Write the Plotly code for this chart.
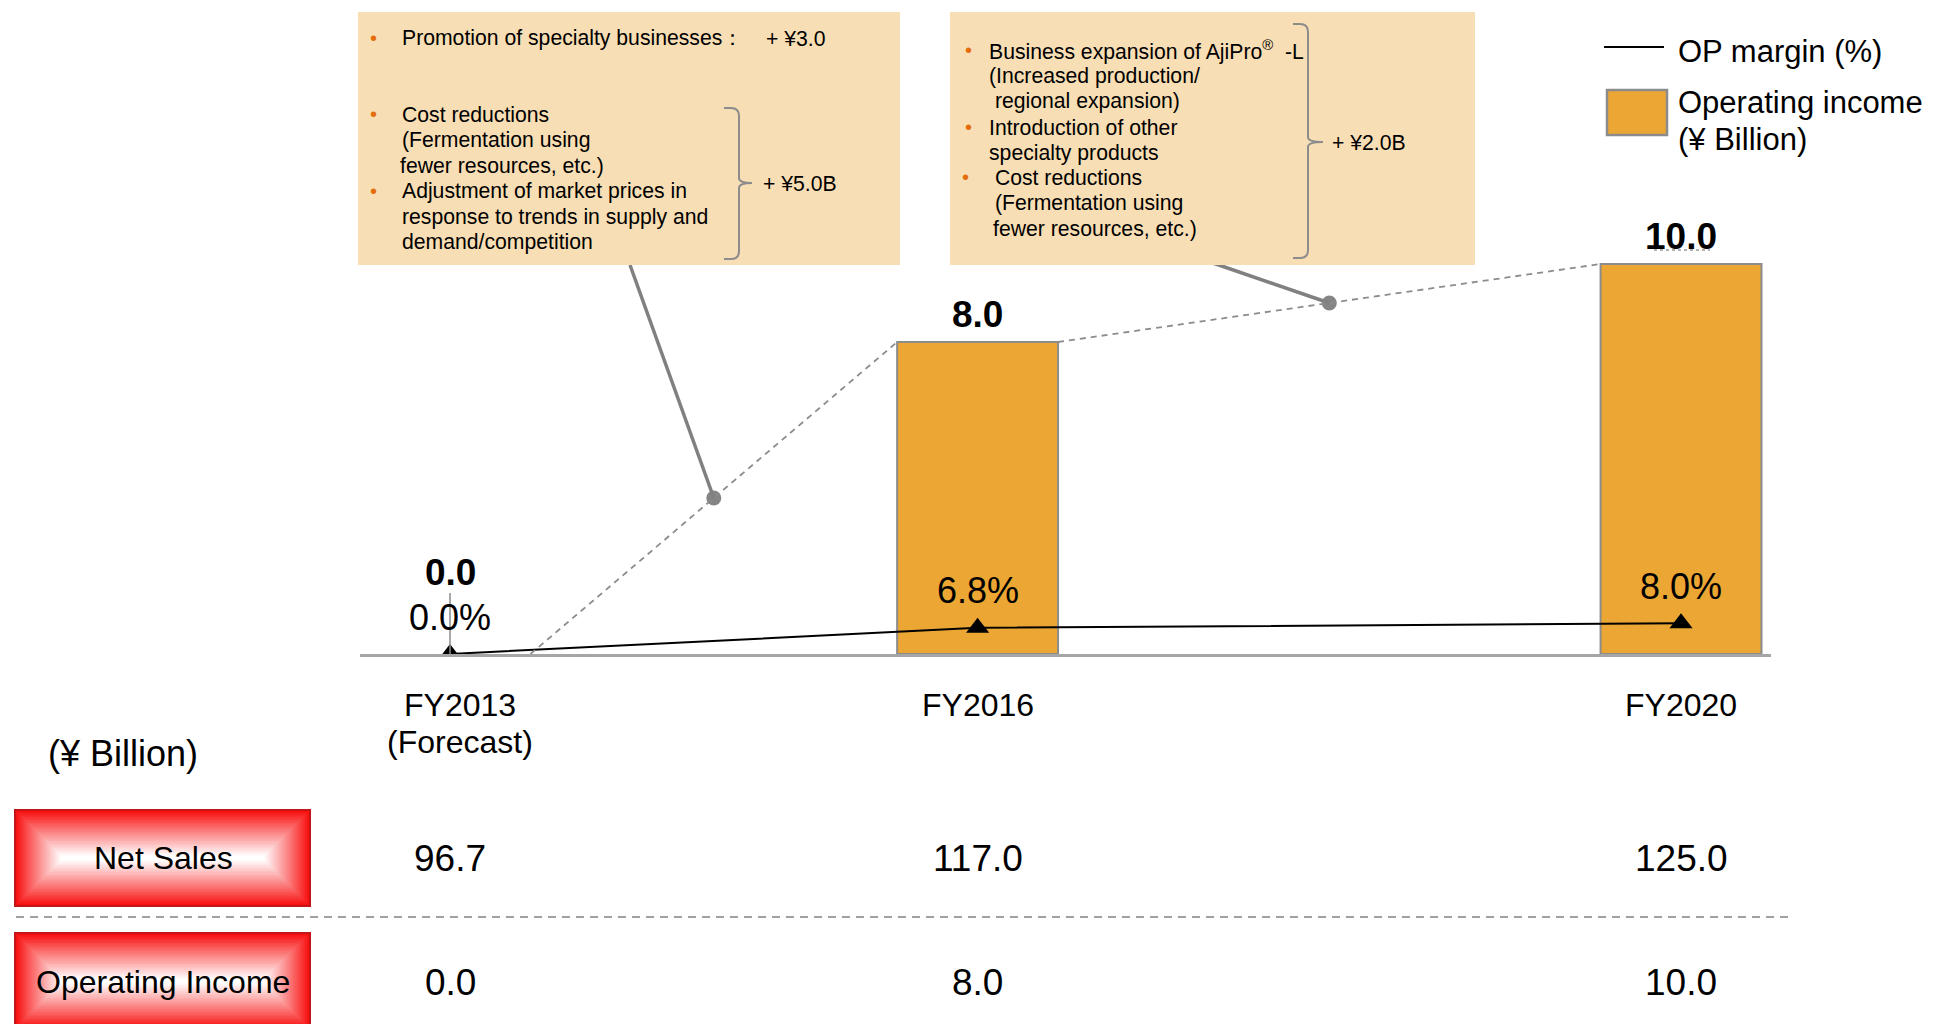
import plotly.graph_objects as go

# ---------------------------------------------------------------------------
# Data
# ---------------------------------------------------------------------------
years = [2013, 2016, 2020]
fy_labels = ["FY2013", "FY2016", "FY2020"]
fy_sublabels = ["(Forecast)", "", ""]
operating_income = [0.0, 8.0, 10.0]      # ¥ Billion
op_margin = [0.0, 6.8, 8.0]              # %
net_sales = [96.7, 117.0, 125.0]         # ¥ Billion

box1_lines = [
    ("•", "Promotion of specialty businesses："),
    ("•", "Cost reductions"),
    ("", "(Fermentation using"),
    ("", "fewer resources, etc.)"),
    ("•", "Adjustment of market prices in"),
    ("", "response to trends in supply and"),
    ("", "demand/competition"),
]
box1_side = ["+ ¥3.0", "+ ¥5.0B"]

box2_lines = [
    ("•", "Business expansion of AjiPro<sup>®</sup>  -L"),
    ("", "(Increased production/"),
    ("", " regional expansion)"),
    ("•", "Introduction of other"),
    ("", "specialty products"),
    ("•", " Cost reductions"),
    ("", " (Fermentation using"),
    ("", "fewer resources, etc.)"),
]
box2_side = "+ ¥2.0B"

# ---------------------------------------------------------------------------
# Geometry / style
# ---------------------------------------------------------------------------
W, H = 1935, 1024
FONT = "Liberation Sans, Arial, Helvetica, sans-serif"
ORANGE = "#EBA633"
PEACH = "#F8DEB4"
GRAY = "#8C8C8C"
BULLET = "#E46C0A"

PL, PR, PB = 360, 1771, 654            # plot area left/right/bottom in pixels
X_RANGE = [2012.4882, 2020.5116]
Y_PX_PER_UNIT = 39.0
Y2_PX_PER_PCT = 3.85
BAR_W = 0.915


def px(x):
    return x / W


def py(y):
    return 1 - y / H


def data_x(xpix):
    return X_RANGE[0] + (xpix - PL) * (X_RANGE[1] - X_RANGE[0]) / (PR - PL)


def data_y(ypix):
    return (PB - ypix) / Y_PX_PER_UNIT


fig = go.Figure()

# Operating income bars (no outline on an empty bar)
fig.add_bar(
    x=years, y=operating_income, width=BAR_W, yaxis="y",
    marker=dict(color=ORANGE,
                line=dict(color=GRAY, width=[2 if v > 0 else 0 for v in operating_income])),
    showlegend=False, hoverinfo="skip",
)

# Dashed steps between bar tops, with a dot in the middle of each step
half = BAR_W / 2
steps = []
for i in range(len(years) - 1):
    x0, y0 = years[i] + half, operating_income[i]
    x1, y1 = years[i + 1] - half, operating_income[i + 1]
    steps.append((x0, y0, x1, y1))

shapes = []
for x0, y0, x1, y1 in steps:
    shapes.append(dict(type="line", xref="x", yref="y", x0=x0, y0=y0, x1=x1, y1=y1,
                       line=dict(color=GRAY, width=1.8, dash="6px,5px")))

mid_x = [(s[0] + s[2]) / 2 for s in steps]
mid_y = [(s[1] + s[3]) / 2 for s in steps]

# Callout leaders from the text boxes to the step midpoints
anchors = [(630, 265), (1213, 263)]
for (ax, ay), mx, my in zip(anchors, mid_x, mid_y):
    shapes.append(dict(type="line", xref="x", yref="y",
                       x0=data_x(ax), y0=data_y(ay), x1=mx, y1=my,
                       line=dict(color="#808080", width=3.5)))

fig.add_scatter(
    x=mid_x, y=mid_y, mode="markers", yaxis="y",
    marker=dict(symbol="circle", size=15, color="#858585"),
    showlegend=False, hoverinfo="skip",
)

# OP margin line
fig.add_scatter(
    x=years, y=op_margin, yaxis="y2", mode="lines+markers",
    line=dict(color="black", width=2),
    marker=dict(symbol="triangle-up", size=20, color="black"),
    showlegend=False, hoverinfo="skip",
)

# thin leader at the first category
shapes.append(dict(type="line", xref="x", yref="y", x0=years[0], x1=years[0],
                   y0=0, y1=data_y(593), line=dict(color=GRAY, width=1.5)))

# ---------------------------------------------------------------------------
# Text boxes
# ---------------------------------------------------------------------------
annotations = []


def label(xp, yp, text, size, anchor="left", color="black", bold=False):
    if bold:
        text = "<b>" + text + "</b>"
    annotations.append(dict(
        xref="paper", yref="paper", x=px(xp), y=py(yp), text=text,
        showarrow=False, xanchor=anchor, yanchor="middle",
        font=dict(family=FONT, size=size, color=color),
    ))


def bracket(x0, x1, tip, top, bottom, mid):
    r = 8
    path = (
        f"M {px(x0)},{py(top)} L {px(x1 - r)},{py(top)} "
        f"Q {px(x1)},{py(top)} {px(x1)},{py(top + r)} "
        f"L {px(x1)},{py(mid - 5)} Q {px(x1)},{py(mid)} {px(tip)},{py(mid)} "
        f"Q {px(x1)},{py(mid)} {px(x1)},{py(mid + 5)} "
        f"L {px(x1)},{py(bottom - r)} Q {px(x1)},{py(bottom)} {px(x1 - r)},{py(bottom)} "
        f"L {px(x0)},{py(bottom)}"
    )
    shapes.append(dict(type="path", xref="paper", yref="paper", path=path,
                       line=dict(color=GRAY, width=2)))


BOX_FS = 21.2
BULLET_FS = 20

# box 1
shapes.append(dict(type="rect", xref="paper", yref="paper",
                   x0=px(358), y0=py(12), x1=px(900), y1=py(265),
                   fillcolor=PEACH, line=dict(width=0)))
box1_y = [38, 114, 140, 166, 191, 217, 242]
box1_x = [400, 400, 400, 398, 400, 400, 400]
for (b, t), yy, xx in zip(box1_lines, box1_y, box1_x):
    if b:
        label(373, yy, b, BULLET_FS, anchor="center", color=BULLET)
    label(xx, yy, t, BOX_FS)
label(764, 38, box1_side[0], BOX_FS)
bracket(724, 739, 752, 108, 259, 183)
label(761, 183, box1_side[1], BOX_FS)

# box 2
shapes.append(dict(type="rect", xref="paper", yref="paper",
                   x0=px(950), y0=py(12), x1=px(1475), y1=py(265),
                   fillcolor=PEACH, line=dict(width=0)))
box2_y = [50, 76, 101, 127, 153, 177, 203, 229]
box2_x = [987, 987, 987, 987, 987, 987, 987, 991]
box2_bx = [968, None, None, 968, None, 965, None, None]
for (b, t), yy, xx, bx in zip(box2_lines, box2_y, box2_x, box2_bx):
    if b:
        label(bx, yy, b, BULLET_FS, anchor="center", color=BULLET)
    label(xx, yy, t, BOX_FS)
bracket(1293, 1308, 1323, 24, 258, 142)
label(1330, 142, box2_side, BOX_FS)

# ---------------------------------------------------------------------------
# Value labels
# ---------------------------------------------------------------------------
for x, v in zip(years, operating_income):
    annotations.append(dict(
        xref="x", yref="y", x=x, y=v, yshift=28 if v > 0 else 82,
        text=f"<b>{v:.1f}</b>", showarrow=False, xanchor="center", yanchor="middle",
        font=dict(family=FONT, size=37, color="black"),
    ))

for x, m in zip(years, op_margin):
    annotations.append(dict(
        xref="x", yref="y2", x=x, y=m, yshift=37,
        text=f"{m:.1f}%", showarrow=False, xanchor="center", yanchor="middle",
        font=dict(family=FONT, size=36, color="black"),
    ))

shapes.append(dict(type="line", xref="paper", yref="paper",
                   x0=px(1654), x1=px(1710), y0=py(250), y1=py(250),
                   line=dict(color="#9A9A9A", width=1.5, dash="dot")))

# Category labels
for x, lab, sub in zip(years, fy_labels, fy_sublabels):
    shift = 10 if sub else 0
    annotations.append(dict(
        xref="x", yref="paper", x=x, y=py(705), xshift=shift, text=lab,
        showarrow=False, xanchor="center", yanchor="middle",
        font=dict(family=FONT, size=32, color="black"),
    ))
    if sub:
        annotations.append(dict(
            xref="x", yref="paper", x=x, y=py(742), xshift=shift, text=sub,
            showarrow=False, xanchor="center", yanchor="middle",
            font=dict(family=FONT, size=32, color="black"),
        ))

# ---------------------------------------------------------------------------
# Legend
# ---------------------------------------------------------------------------
shapes.append(dict(type="line", xref="paper", yref="paper",
                   x0=px(1604), x1=px(1664), y0=py(47), y1=py(47),
                   line=dict(color="black", width=2)))
label(1676, 51, "OP margin (%)", 31)
shapes.append(dict(type="rect", xref="paper", yref="paper",
                   x0=px(1607), x1=px(1667), y0=py(90), y1=py(135),
                   fillcolor=ORANGE, line=dict(color=GRAY, width=2.5)))
label(1676, 102, "Operating income", 31)
label(1676, 139, "(¥ Billion)", 31)

# ---------------------------------------------------------------------------
# Table below the chart
# ---------------------------------------------------------------------------
label(123, 753, "(¥ Billion)", 36, anchor="center")


def gradient_box(x0, y0, x1, y1, n=34):
    half_h = (y1 - y0) / 2
    red = (248, 12, 12)
    for i in range(n):
        t = i / n
        inset = t * half_h
        k = min(1.0, t ** 0.95 * 1.05)
        c = tuple(round(red[j] + (255 - red[j]) * k) for j in range(3))
        shapes.append(dict(type="rect", xref="paper", yref="paper", layer="below",
                           x0=px(x0 + inset), x1=px(x1 - inset),
                           y0=py(y0 + inset), y1=py(y1 - inset),
                           fillcolor=f"rgb{c}", line=dict(width=0)))
    shapes.append(dict(type="rect", xref="paper", yref="paper", layer="below",
                       x0=px(x0), x1=px(x1), y0=py(y0), y1=py(y1),
                       fillcolor="rgba(0,0,0,0)", line=dict(color="#C41616", width=2)))


gradient_box(15, 810, 310, 906)
gradient_box(15, 933, 310, 1029)
label(163, 858, "Net Sales", 32, anchor="center")
label(163, 982, "Operating Income", 32, anchor="center")

shapes.append(dict(type="line", xref="paper", yref="paper",
                   x0=px(16), x1=px(1789), y0=py(917), y1=py(917),
                   line=dict(color="#A0A0A0", width=2, dash="8px,6px")))

for x, ns, oi in zip(years, net_sales, operating_income):
    for val, yy in ((ns, 858), (oi, 982)):
        annotations.append(dict(
            xref="x", yref="paper", x=x, y=py(yy), text=f"{val:.1f}",
            showarrow=False, xanchor="center", yanchor="middle",
            font=dict(family=FONT, size=37, color="black"),
        ))

# ---------------------------------------------------------------------------
# Layout
# ---------------------------------------------------------------------------
fig.update_layout(
    width=W, height=H, autosize=False,
    margin=dict(l=0, r=0, t=0, b=0, pad=0),
    paper_bgcolor="white", plot_bgcolor="white",
    showlegend=False, barmode="overlay",
    font=dict(family=FONT, color="black"),
    xaxis=dict(domain=[PL / W, PR / W], range=X_RANGE, showgrid=False,
               zeroline=False, showticklabels=False, ticks="",
               showline=True, linecolor="#A6A6A6", linewidth=2.5),
    yaxis=dict(domain=[1 - PB / H, 1], range=[0, PB / Y_PX_PER_UNIT],
               showgrid=False, zeroline=False, showticklabels=False, ticks="",
               showline=False),
    yaxis2=dict(domain=[1 - PB / H, 1], range=[0, PB / Y2_PX_PER_PCT],
                overlaying="y", side="right", showgrid=False, zeroline=False,
                showticklabels=False, ticks="", showline=False),
    shapes=shapes,
    annotations=annotations,
)

fig.write_html("out.html")
